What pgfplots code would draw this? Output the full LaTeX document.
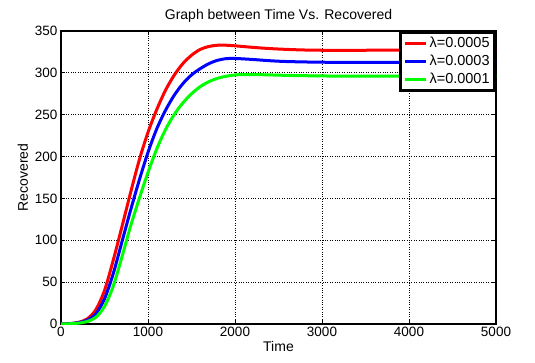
\documentclass[border=0pt]{standalone}
\usepackage{pgfplots}
\pgfplotsset{compat=1.18}
\usepackage{fontspec}
\setmainfont{Liberation Sans}

\definecolor{mred}{RGB}{255,0,0}
\definecolor{mblue}{RGB}{0,0,255}
\definecolor{mgreen}{RGB}{0,255,0}

\begin{document}
\begin{tikzpicture}
\path[use as bounding box] (-61pt,-38pt) rectangle (474pt,324pt);
\begin{axis}[
  scale only axis,
  width=435pt, height=293pt,
  xmin=0, xmax=5000, ymin=0, ymax=350,
  xtick={0,1000,2000,3000,4000,5000},
  ytick={0,50,100,150,200,250,300,350},
  /pgf/number format/assume math mode=true,
  scaled x ticks=false,
  xticklabel style={/pgf/number format/set thousands separator={}},
  tick label style={font=\fontsize{13.5}{15}\selectfont},
  tick align=inside,
  major tick length=4pt,
  tick style={black, line width=1pt},
  axis line style={line width=2.6pt},
  grid=major,
  major grid style={black, dotted, line width=0.8pt},
  title={Graph between Time Vs. Recovered},
  title style={font=\fontsize{14}{16}\selectfont, yshift=-1pt},
  xlabel={Time},
  ylabel={Recovered},
  label style={font=\fontsize{14}{16}\selectfont},
  xlabel style={yshift=3pt},
  ylabel style={yshift=0pt},
  legend style={at={(1,1)}, anchor=north east, draw=black, line width=2.8pt,
    font=\fontsize{14.5}{17}\selectfont, inner sep=3pt, row sep=2pt,
    legend cell align=left},
  legend image code/.code={\draw[#1, line width=3pt] (0cm,0cm) -- (0.75cm,0cm);},
  every axis plot/.append style={line width=3pt, smooth},
]
\addplot[mred] coordinates {
 (0,0) (100,0.5) (200,2) (300,6) (400,17) (500,40) (600,76) (700,116)
 (800,157) (900,196) (1000,229) (1100,256) (1200,279) (1300,297)
 (1400,311) (1500,321) (1600,328) (1700,331.5) (1800,333) (1900,333)
 (2000,332.3) (2200,330.5) (2400,329) (2600,328) (2800,327.3) (3000,327)
 (3500,327) (4000,327.3) (4500,327.6) (5000,328)};
\addlegendentry{λ=0.0005}
\addplot[mblue] coordinates {
 (0,0) (100,0.4) (200,1.5) (300,4.5) (400,12) (500,30) (600,60) (700,98)
 (800,136) (900,172) (1000,205) (1100,233) (1200,255) (1300,273)
 (1400,287) (1500,297.5) (1600,305) (1700,311) (1800,315) (1900,317)
 (2000,317.2) (2200,316) (2400,314.5) (2600,313.5) (3000,312.7)
 (3500,312.5) (4000,312.6) (4500,312.8) (5000,313)};
\addlegendentry{λ=0.0003}
\addplot[mgreen] coordinates {
 (0,0) (100,0.3) (200,1) (300,3) (400,8) (500,21) (600,45) (700,80)
 (800,117) (900,150) (1000,181) (1100,209) (1200,232) (1300,250)
 (1400,264) (1500,275) (1600,283.5) (1700,289.5) (1800,293.5) (1900,296)
 (2000,297.5) (2100,298) (2300,297.8) (2600,297) (3000,296.3)
 (3500,296) (4000,296) (4500,296) (5000,296)};
\addlegendentry{λ=0.0001}
\end{axis}
\end{tikzpicture}
\end{document}
